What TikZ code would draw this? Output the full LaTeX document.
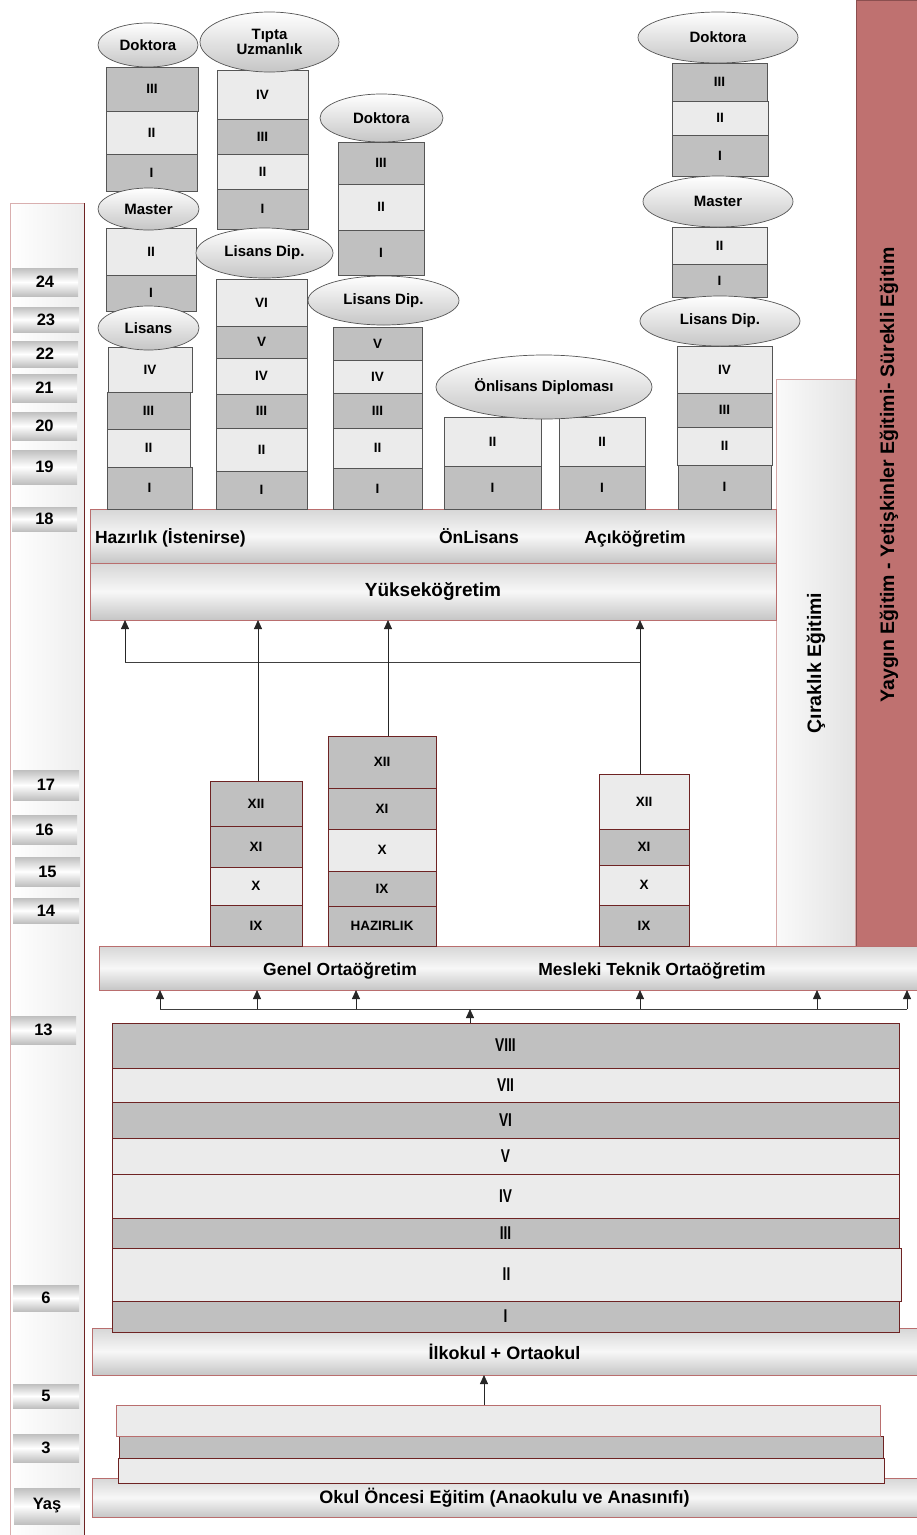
\documentclass[tikz,border=0pt]{standalone}
\usepackage{fontspec}
\usepackage{graphicx}
\setmainfont{Liberation Sans}
\usetikzlibrary{shapes.geometric,arrows.meta}
\definecolor{cdark}{RGB}{192,192,192}
\definecolor{clight}{RGB}{235,235,235}
\definecolor{crose}{RGB}{191,113,112}
\definecolor{cline}{RGB}{85,85,85}
\definecolor{cred}{RGB}{110,35,35}
\definecolor{cband}{RGB}{185,110,110}
\newcommand{\cellx}[7]{\node[#6,minimum width={(#4)-(#2)},minimum height={(#5)-(#3)}] (#1) at ({((#2)+(#4))/2},{((#3)+(#5))/2}) {#7};}
\newcommand{\ovx}[6]{\node[oval,minimum width={(#4)-(#2)},minimum height={(#5)-(#3)}] (#1) at ({((#2)+(#4))/2},{((#3)+(#5))/2}) {#6};}
\newcommand{\fs}[1]{\fontsize{#1}{#1}\selectfont\bfseries}
\newcommand{\cnd}[1]{\scalebox{0.74}[1]{#1}}
\begin{document}
\begin{tikzpicture}[x=1pt,y=-1pt,
  every node/.style={inner sep=0pt,outer sep=0pt},
  hdk/.style={fill=cdark,draw=cline,line width=0.7pt,font=\fs{13.5}},
  hlt/.style={fill=clight,draw=cline,line width=0.7pt,font=\fs{13.5}},
  sdk/.style={fill=cdark,draw=cred,line width=0.8pt,font=\fs{13.5}},
  slt/.style={fill=clight,draw=cred,line width=0.8pt,font=\fs{13.5}},
  pdk/.style={fill=cdark,draw=cred,line width=0.8pt,font=\fs{18.5}},
  plt/.style={fill=clight,draw=cred,line width=0.8pt,font=\fs{18.5}},
  oval/.style={ellipse,draw=cline,line width=0.7pt,top color=white,bottom color=gray!45,font=\fs{15},align=center},
  band/.style={draw=cband,line width=0.8pt,top color=gray!32,bottom color=gray!45,middle color=gray!6},
  agebar/.style={top color=gray!50,bottom color=gray!50,middle color=white,font=\fs{16.5}},
  bandtxt/.style={font=\fs{17.5}},
  arr/.style={draw=black!85,line width=0.8pt,-{Triangle[length=9pt,width=8pt]}},
  ln/.style={draw=black!75,line width=0.8pt}]
\useasboundingbox (0,0) rectangle (917,1535);
\fill[white] (0,0) rectangle (917,1535);

% age column
\node[left color=white,right color=gray!14,draw=cband!55,line width=0.8pt,minimum width=74,minimum height=1334] (agecol) at (47,870) {};
\draw[cred,line width=0.9pt] (agecol.north east) -- (agecol.south east);
\cellx{a24}{12}{268}{78}{296}{agebar}{24}
\cellx{a23}{13}{307}{79}{332}{agebar}{23}
\cellx{a22}{12}{341}{78}{367}{agebar}{22}
\cellx{a21}{12}{374}{77}{402}{agebar}{21}
\cellx{a20}{12}{412}{77}{440}{agebar}{20}
\cellx{a19}{12}{450}{77}{484}{agebar}{19}
\cellx{a18}{12}{507}{77}{531}{agebar}{18}
\cellx{a17}{13}{770}{79}{800}{agebar}{17}
\cellx{a16}{12}{815}{77}{844}{agebar}{16}
\cellx{a15}{15}{857}{80}{886}{agebar}{15}
\cellx{a14}{13}{898}{79}{923}{agebar}{14}
\cellx{a13}{11}{1016}{76}{1044}{agebar}{13}
\cellx{a6}{13}{1285}{79}{1311}{agebar}{6}
\cellx{a5}{13}{1384}{79}{1408}{agebar}{5}
\cellx{a3}{13}{1434}{79}{1462}{agebar}{3}
\cellx{ay}{14}{1488}{80}{1524}{agebar}{Yaş}

% right columns
\cellx{yaygin}{856}{0}{917}{946}{fill=crose,draw=cred!80,line width=0.8pt}{}
\node[rotate=90,font=\fs{19.5}] (yaygintxt) at (889,475) {Yaygın Eğitim - Yetişkinler Eğitimi- Sürekli Eğitim};
\cellx{cirak}{776}{379}{855}{946}{left color=gray!4,right color=gray!22,draw=cband!60,line width=0.8pt}{}
\node[rotate=90,font=\fs{19.5}] (ciraktxt) at (816,663) {Çıraklık Eğitimi};

% higher education bands
\cellx{haz}{90}{509}{776}{563}{band}{}
\cellx{yuk}{90}{563}{776}{620}{band,font=\fs{19}}{Yükseköğretim}
\node[bandtxt,anchor=base west] (haztxt) at (95,543) {Hazırlık (İstenirse)};
\node[bandtxt,anchor=base] (onltxt) at (479,543) {ÖnLisans};
\node[bandtxt,anchor=base] (acitxt) at (635,543) {Açıköğretim};

% column 1
\cellx{c1d3}{106}{67}{198}{111}{hdk}{III}
\cellx{c1d2}{106}{111}{197}{154}{hlt}{II}
\cellx{c1d1}{106}{154}{197}{191}{hdk}{I}
\cellx{c1m2}{106}{228}{196}{275}{hlt}{II}
\cellx{c1m1}{106}{275}{196}{311}{hdk}{I}
\cellx{c1l4}{108}{347}{192}{392}{hlt}{IV}
\cellx{c1l3}{107}{392}{190}{429}{hdk}{III}
\cellx{c1l2}{107}{429}{190}{467}{hlt}{II}
\cellx{c1l1}{107}{467}{192}{509}{hdk}{I}
\ovx{c1doc}{98}{23}{198}{67}{Doktora}
\ovx{c1mas}{98}{188}{199}{230}{Master}
\ovx{c1lis}{98}{306}{199}{350}{Lisans}

% column 2
\cellx{c2t4}{217}{70}{308}{119}{hlt}{IV}
\cellx{c2t3}{217}{119}{308}{154}{hdk}{III}
\cellx{c2t2}{217}{154}{308}{189}{hlt}{II}
\cellx{c2t1}{217}{189}{308}{229}{hdk}{I}
\cellx{c2l6}{216}{279}{307}{326}{hlt}{VI}
\cellx{c2l5}{216}{326}{307}{358}{hdk}{V}
\cellx{c2l4}{216}{358}{307}{394}{hlt}{IV}
\cellx{c2l3}{216}{394}{307}{428}{hdk}{III}
\cellx{c2l2}{216}{428}{307}{471}{hlt}{II}
\cellx{c2l1}{216}{471}{307}{509}{hdk}{I}
\ovx{c2tip}{200}{12}{339}{72}{Tıpta\\Uzmanlık}
\ovx{c2lis}{196}{228}{333}{278}{Lisans Dip.}

% column 3
\cellx{c3d3}{338}{142}{424}{184}{hdk}{III}
\cellx{c3d2}{338}{184}{424}{230}{hlt}{II}
\cellx{c3d1}{338}{230}{424}{275}{hdk}{I}
\cellx{c3l5}{333}{327}{422}{360}{hdk}{V}
\cellx{c3l4}{333}{360}{422}{393}{hlt}{IV}
\cellx{c3l3}{333}{393}{422}{428}{hdk}{III}
\cellx{c3l2}{333}{428}{422}{468}{hlt}{II}
\cellx{c3l1}{333}{468}{422}{509}{hdk}{I}
\ovx{c3doc}{320}{94}{443}{142}{Doktora}
\ovx{c3lis}{308}{276}{459}{325}{Lisans Dip.}

% column 4 (onlisans)
\cellx{c4a2}{444}{417}{541}{466}{hlt}{II}
\cellx{c4a1}{444}{466}{541}{509}{hdk}{I}
\cellx{c4b2}{559}{417}{645}{466}{hlt}{II}
\cellx{c4b1}{559}{466}{645}{509}{hdk}{I}
\ovx{c4onl}{436}{355}{652}{419}{Önlisans Diploması}

% column 5
\cellx{c5d3}{672}{63}{767}{101}{hdk}{III}
\cellx{c5d2}{672}{101}{768}{135}{hlt}{II}
\cellx{c5d1}{672}{135}{768}{176}{hdk}{I}
\cellx{c5m2}{672}{227}{767}{264}{hlt}{II}
\cellx{c5m1}{672}{264}{767}{297}{hdk}{I}
\cellx{c5l4}{677}{346}{772}{393}{hlt}{IV}
\cellx{c5l3}{677}{393}{772}{427}{hdk}{III}
\cellx{c5l2}{677}{427}{772}{465}{hlt}{II}
\cellx{c5l1}{678}{465}{771}{509}{hdk}{I}
\ovx{c5doc}{638}{12}{798}{63}{Doktora}
\ovx{c5mas}{643}{176}{793}{227}{Master}
\ovx{c5lis}{640}{296}{800}{346}{Lisans Dip.}

% secondary
\cellx{sec}{99}{946}{917}{990}{band}{}
\node[bandtxt,anchor=base] (gentxt) at (340,975) {Genel Ortaöğretim};
\node[bandtxt,anchor=base] (mestxt) at (652,975) {Mesleki Teknik Ortaöğretim};

\cellx{gA12}{210}{781}{302}{826}{sdk}{XII}
\cellx{gA11}{210}{826}{302}{867}{sdk}{XI}
\cellx{gA10}{210}{867}{302}{905}{slt}{X}
\cellx{gA9}{210}{905}{302}{946}{sdk}{IX}

\cellx{gB12}{328}{736}{436}{788}{sdk}{XII}
\cellx{gB11}{328}{788}{436}{829}{sdk}{XI}
\cellx{gB10}{328}{829}{436}{871}{slt}{X}
\cellx{gB9}{328}{871}{436}{906}{sdk}{IX}
\cellx{gBh}{328}{906}{436}{946}{sdk}{HAZIRLIK}

\cellx{mC12}{599}{774}{689}{829}{slt}{XII}
\cellx{mC11}{599}{829}{689}{865}{sdk}{XI}
\cellx{mC10}{599}{865}{689}{905}{slt}{X}
\cellx{mC9}{599}{905}{689}{946}{sdk}{IX}

% arrows to higher education
\coordinate (jl) at (125,662);
\coordinate (jr) at (640,662);
\draw[ln] (jl) -- (jr);
\draw[arr] (jl) -- (jl |- yuk.south);
\draw[arr] ([xshift=2pt]gA12.north) -- ([xshift=2pt]gA12.north |- yuk.south);
\draw[arr] ([xshift=6pt]gB12.north) -- ([xshift=6pt]gB12.north |- yuk.south);
\draw[arr] ([xshift=-4pt]mC12.north) -- ([xshift=-4pt]mC12.north |- yuk.south);

% primary bands
\cellx{ilk}{92}{1328}{917}{1375}{band,font=\fs{18}}{İlkokul + Ortaokul}
\cellx{p8}{112}{1023}{899}{1068}{pdk}{\cnd{VIII}}
\cellx{p7}{112}{1068}{899}{1102}{plt}{\cnd{VII}}
\cellx{p6}{112}{1102}{899}{1138}{pdk}{\cnd{VI}}
\cellx{p5}{112}{1138}{899}{1174}{plt}{\cnd{V}}
\cellx{p4}{112}{1174}{899}{1218}{plt}{\cnd{IV}}
\cellx{p3}{112}{1218}{899}{1248}{pdk}{\cnd{III}}
\cellx{p2}{112}{1248}{901}{1301}{plt}{\cnd{II}}
\cellx{p1}{112}{1301}{899}{1332}{pdk}{\cnd{I}}

% arrows to secondary
\coordinate (sl) at (160,1009);
\coordinate (sr) at (907,1009);
\coordinate (s2) at (257,1009);
\coordinate (s3) at (356,1009);
\coordinate (s4) at (640,1009);
\coordinate (s5) at (817,1009);
\draw[ln] (sl) -- (sr);
\foreach \c in {sl,s2,s3,s4,s5,sr} {\draw[arr] (\c) -- (\c |- sec.south);}
\coordinate (pt) at (470,1023);
\draw[arr] (pt) -- (pt |- sl);

% preschool
\cellx{okul}{92}{1478}{917}{1517}{band,font=\fs{18}}{Okul Öncesi Eğitim (Anaokulu ve Anasınıfı)}
\cellx{pre3}{118}{1458}{884}{1483}{fill=clight,draw=cred,line width=0.8pt}{}
\cellx{pre2}{119}{1436}{883}{1458}{fill=cdark,draw=cred,line width=0.8pt}{}
\cellx{pre1}{116}{1405}{880}{1436}{fill=clight,draw=cband,line width=0.8pt}{}
\coordinate (pp) at (484,1405);
\draw[arr] (pp) -- (pp |- ilk.south);
\end{tikzpicture}
\end{document}
